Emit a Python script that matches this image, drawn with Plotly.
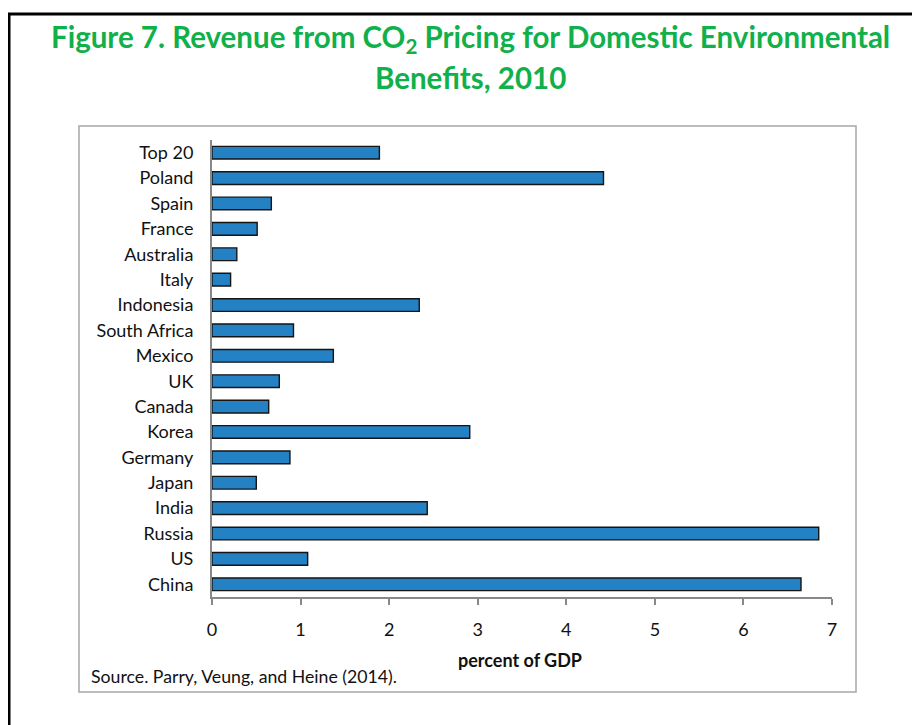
import plotly.graph_objects as go

categories = ["Top 20", "Poland", "Spain", "France", "Australia", "Italy", "Indonesia",
              "South Africa", "Mexico", "UK", "Canada", "Korea", "Germany", "Japan",
              "India", "Russia", "US", "China"]
values = [1.89, 4.42, 0.67, 0.51, 0.28, 0.21, 2.34, 0.92, 1.37, 0.76, 0.64, 2.91,
          0.88, 0.50, 2.43, 6.85, 1.08, 6.65]
x_ticks = [0, 1, 2, 3, 4, 5, 6, 7]

# page body has an 8px margin; work in target-image pixels and shift
O = 8
W, H = 912, 717
L = 212 - O
T = 140 - O
R = W - (832 - O)
B = H - (597 - O)
PW, PH = W - L - R, H - T - B

def px(x):
    return (x - O - L) / PW

def py(y):
    return (H - B - (y - O)) / PH

FONT = "Lato"

fig = go.Figure(go.Bar(
    x=values, y=categories, orientation="h",
    marker=dict(color="#2381C4", line=dict(color="#151515", width=1.4)),
    width=0.5,
))

fig.update_layout(
    width=W, height=H,
    margin=dict(l=L, r=R, t=T, b=B),
    paper_bgcolor="white", plot_bgcolor="white",
    showlegend=False,
    font=dict(family=FONT, color="#111111"),
)
fig.update_xaxes(
    range=[0, 7], tickvals=x_ticks, ticktext=[str(t) for t in x_ticks],
    showgrid=False, zeroline=False, showline=True, linecolor="#888888", linewidth=2,
    ticks="outside", ticklen=6, tickcolor="#888888", tickwidth=1.5,
    tickfont=dict(size=18, family=FONT, color="#111111"),
    ticklabelstandoff=9,
)
fig.update_yaxes(
    categoryorder="array", categoryarray=categories[::-1],
    showgrid=False, zeroline=False, showline=True, linecolor="#888888", linewidth=2,
    ticks="", tickfont=dict(size=18, family=FONT, color="#111111"),
    ticklabelstandoff=13,
)

green = "#10B04A"
fig.add_annotation(xref="paper", yref="paper", x=px(470), y=py(38),
                   text="<b>Figure 7. Revenue from CO<sub>2</sub> Pricing for Domestic Environmental</b>",
                   showarrow=False, xanchor="center", yanchor="middle",
                   font=dict(size=29.5, color=green, family=FONT))
fig.add_annotation(xref="paper", yref="paper", x=px(470), y=py(77),
                   text="<b>Benefits, 2010</b>",
                   showarrow=False, xanchor="center", yanchor="middle",
                   font=dict(size=29.5, color=green, family=FONT))
fig.add_annotation(xref="paper", yref="paper", x=px(520), y=py(660),
                   text="<b>percent of GDP</b>",
                   showarrow=False, xanchor="center", yanchor="middle",
                   font=dict(size=18, color="#111111", family=FONT))
fig.add_annotation(xref="paper", yref="paper", x=px(89), y=py(676),
                   text="Source. Parry, Veung, and Heine (2014).",
                   showarrow=False, xanchor="left", yanchor="middle",
                   font=dict(size=17.7, color="#111111", family=FONT))

# inner chart frame
fig.add_shape(type="rect", xref="paper", yref="paper",
              x0=px(79), x1=px(856), y0=py(692), y1=py(126),
              line=dict(color="#a6a6a6", width=1.5), layer="below")
# outer black frame
fig.add_shape(type="rect", xref="paper", yref="paper",
              x0=px(9), x1=px(940), y0=py(745), y1=py(14),
              line=dict(color="black", width=3), layer="below")

fig.write_html("out.html")
